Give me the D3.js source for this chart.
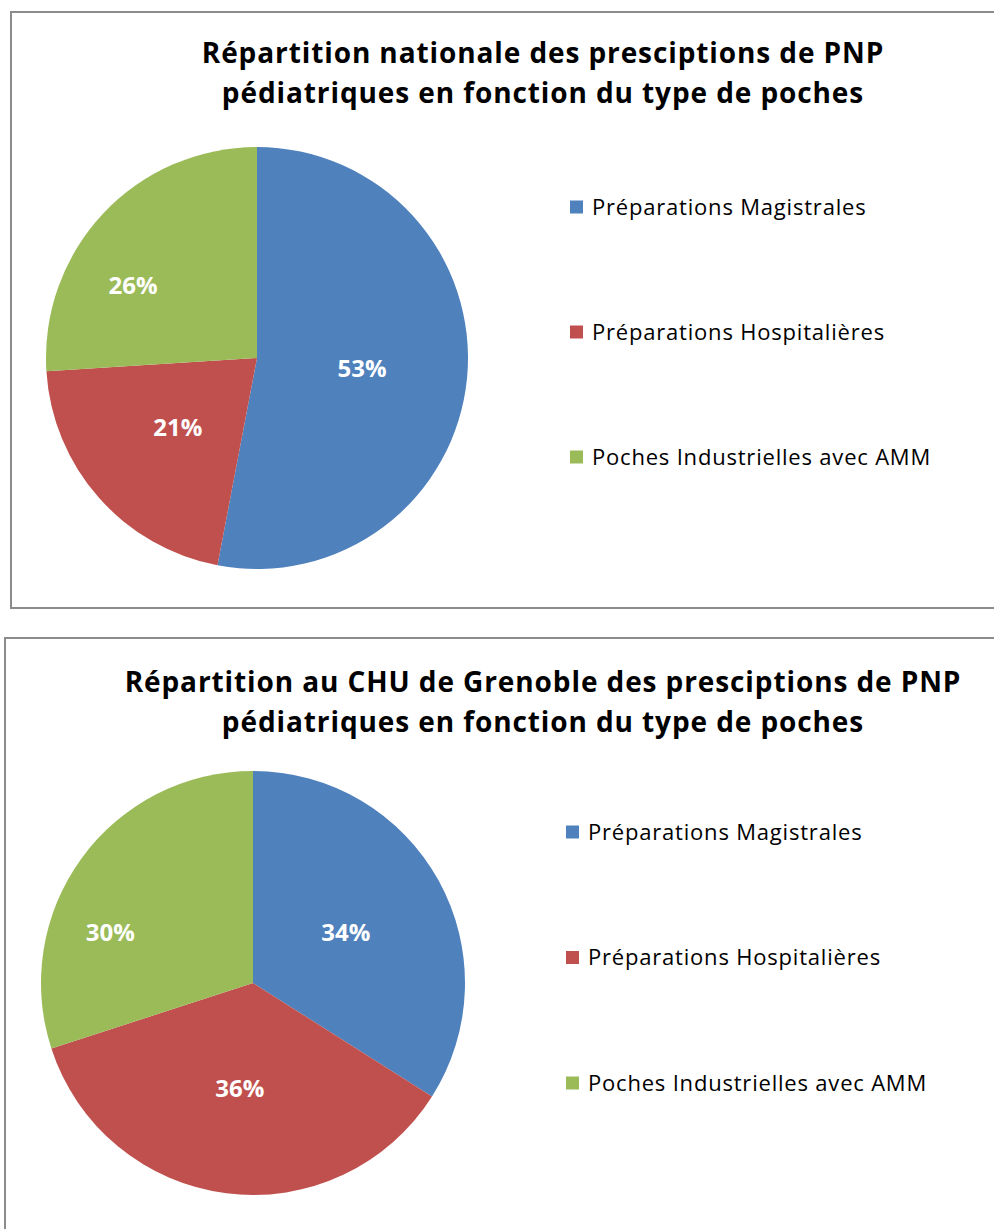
<!DOCTYPE html>
<html>
<head>
<meta charset="utf-8">
<script src="https://d3js.org/d3.v7.min.js"></script>
<style>
  body { margin: 0; background: white; }
  svg { display: block; }
  .title { font-family: "Open Sans", sans-serif; font-weight: 700; fill: #000; }
  .legend text { font-family: "Open Sans", sans-serif; fill: #000; }
  .lbl { font-family: "Open Sans", sans-serif; font-weight: 700; fill: #fff; }
</style>
</head>
<body>
<div id="chart"></div>
<script>
// data
var categories = ["Préparations Magistrales", "Préparations Hospitalières", "Poches Industrielles avec AMM"];
var nationalValues = [53, 21, 26];
var grenobleValues = [34, 36, 30];
var colors = ["#4F81BD", "#C0504D", "#9BBB59"];
var nationalTitle = ["Répartition nationale des presciptions de PNP", "pédiatriques en fonction du type de poches"];
var grenobleTitle = ["Répartition au CHU de Grenoble des presciptions de PNP", "pédiatriques en fonction du type de poches"];

var W = 994, H = 1229;

var svg = d3.select("#chart").append("svg")
    .attr("width", W)
    .attr("height", H);

var color = d3.scaleOrdinal().domain(categories).range(colors);

// one panel = border + title + pie + legend
function drawPanel(cfg) {
    var g = svg.append("g");

    g.append("rect")
        .attr("x", cfg.box[0])
        .attr("y", cfg.box[1])
        .attr("width", cfg.box[2])
        .attr("height", cfg.box[3])
        .attr("fill", "white")
        .attr("stroke", "#8c8c8c")
        .attr("stroke-width", 2);

    g.selectAll("text.title")
        .data(cfg.title)
        .enter()
        .append("text")
        .attr("class", "title")
        .attr("x", 543)
        .attr("y", function (d, i) { return cfg.titleY + i * 40; })
        .attr("text-anchor", "middle")
        .style("font-size", "28px")
        .style("letter-spacing", "0.9px")
        .text(function (d) { return d; });

    var pie = d3.pie().sort(null).value(function (d) { return d.value; });
    var arcs = pie(categories.map(function (c, i) { return { cat: c, value: cfg.values[i] }; }));
    var arc = d3.arc().innerRadius(0).outerRadius(cfg.r);

    var pg = g.append("g")
        .attr("transform", "translate(" + cfg.cx + "," + cfg.cy + ")");

    pg.selectAll("path")
        .data(arcs)
        .enter()
        .append("path")
        .attr("d", arc)
        .attr("fill", function (d) { return color(d.data.cat); });

    // labels sit on the centroid, nudged a bit like Excel's best fit
    pg.selectAll("text")
        .data(arcs)
        .enter()
        .append("text")
        .attr("class", "lbl")
        .attr("transform", function (d, i) {
            var c = arc.centroid(d);
            var s = cfg.labelShift[i];
            return "translate(" + (c[0] + s[0]) + "," + (c[1] + s[1]) + ")";
        })
        .attr("text-anchor", "middle")
        .attr("dy", "0.36em")
        .style("font-size", "24px")
        .text(function (d) { return d.data.value + "%"; });

    var y = d3.scalePoint().domain(categories).range(cfg.legendY);

    var lg = g.append("g").attr("class", "legend");
    var item = lg.selectAll("g")
        .data(categories)
        .enter()
        .append("g")
        .attr("transform", function (d) { return "translate(" + cfg.legendX + "," + y(d) + ")"; });

    item.append("rect")
        .attr("x", 0)
        .attr("y", -6.5)
        .attr("width", 13)
        .attr("height", 13)
        .attr("fill", function (d) { return color(d); });

    item.append("text")
        .attr("x", 22)
        .attr("dy", "0.36em")
        .style("font-size", "22px")
        .style("letter-spacing", "0.8px")
        .text(function (d) { return d; });
}

drawPanel({
    box: [11, 12, 1000, 596],
    title: nationalTitle,
    titleY: 63,
    values: nationalValues,
    cx: 257, cy: 358, r: 211,
    labelShift: [[0, 0], [0, 0], [-47, 0]],
    legendX: 570,
    legendY: [207, 457]
});

drawPanel({
    box: [5, 638, 1000, 620],
    title: grenobleTitle,
    titleY: 692,
    values: grenobleValues,
    cx: 253, cy: 983, r: 212,
    labelShift: [[0, 0], [0, 0], [-57, 12]],
    legendX: 566,
    legendY: [832, 1083]
});
</script>
</body>
</html>
